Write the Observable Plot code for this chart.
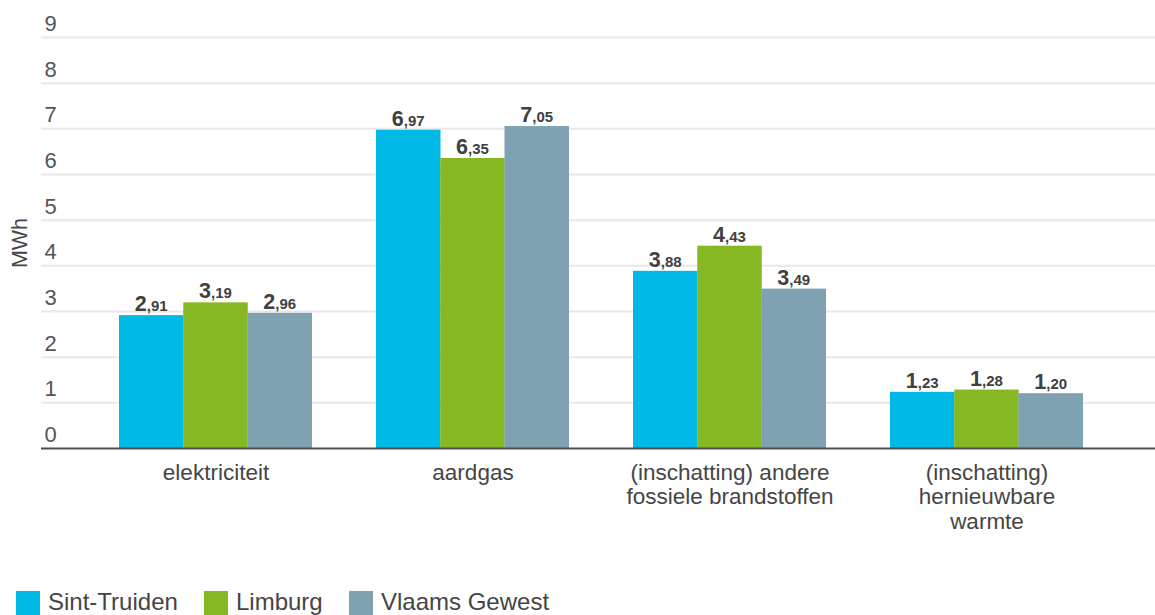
<!DOCTYPE html>
<html>
<head>
<meta charset="utf-8">
<script src="https://cdn.jsdelivr.net/npm/d3@7"></script>
<script src="https://cdn.jsdelivr.net/npm/@observablehq/plot@0.6"></script>
<style>
  body { margin: 0; background: #fff; font-family: "Liberation Sans", Arial, sans-serif; }
  #wrap { position: relative; width: 1155px; height: 615px; overflow: hidden; }
  #chart svg { display: block; }
  .legend-item { position: absolute; top: 591px; height: 24px; }
  .legend-item .sw { position: absolute; left: 0; top: 0; width: 24px; height: 24px; }
  .legend-item .lbl { position: absolute; left: 32px; top: -1px; font-size: 24px; line-height: 1; color: #454545; white-space: nowrap; }
</style>
</head>
<body>
<div id="wrap">
  <div id="chart"></div>
  <div id="legend"></div>
</div>
<script>
// Energy use per household (MWh) by carrier
const categories = [
  "elektriciteit",
  "aardgas",
  "(inschatting) andere fossiele brandstoffen",
  "(inschatting) hernieuwbare warmte"
];
const categoryLabels = [
  "elektriciteit",
  "aardgas",
  "(inschatting) andere\nfossiele brandstoffen",
  "(inschatting)\nhernieuwbare\nwarmte"
];
const series = ["Sint-Truiden", "Limburg", "Vlaams Gewest"];
const sintTruiden = [2.91, 6.97, 3.88, 1.23];
const limburg = [3.19, 6.35, 4.43, 1.28];
const vlaamsGewest = [2.96, 7.05, 3.49, 1.20];
const yTicks = [0, 1, 2, 3, 4, 5, 6, 7, 8, 9];
const colors = ["#00b9e7", "#86b823", "#7fa2b3"];

const seriesValues = [sintTruiden, limburg, vlaamsGewest];
const rows = series.flatMap((s, si) =>
  categories.map((c, ci) => ({series: s, si, category: c, value: seriesValues[si][ci]}))
);

const W = 1155, H = 575;
const xRange = [87, 1115];
const paddingInner = 0.25, paddingOuter = 0.125;
const step = (xRange[1] - xRange[0]) / (categories.length - paddingInner + 2 * paddingOuter);
const groupWidth = step * (1 - paddingInner);
const barW = groupWidth / series.length;

const intPart = v => String(Math.trunc(v));
const decPart = v => "," + v.toFixed(2).split(".")[1];

const marks = [
  // horizontal gridlines
  Plot.ruleY(yTicks.filter(d => d > 0), {stroke: "#e8e8e8", strokeWidth: 2}),
  // y tick labels sitting above each gridline
  Plot.text(yTicks, {
    y: d => d, text: d => String(d), frameAnchor: "left", textAnchor: "start",
    lineAnchor: "bottom", dx: 3, dy: -6.5, fontSize: 22, fill: "#555555"
  }),
  // y axis title
  Plot.text(["MWh"], {
    text: d => d, frameAnchor: "left", rotate: -90, dx: -21.5,
    textAnchor: "middle", lineAnchor: "middle", fontSize: 21.5, fill: "#454545"
  })
];

series.forEach((s, i) => {
  const data = rows.filter(r => r.si === i);
  const offset = (i - (series.length - 1) / 2) * barW;
  marks.push(
    Plot.barY(data, {
      x: "category", y: "value", fill: colors[i],
      insetLeft: i * barW, insetRight: (series.length - 1 - i) * barW
    }),
    Plot.text(data, {
      x: "category", y: "value", text: d => intPart(d.value),
      textAnchor: "end", lineAnchor: "bottom", dx: offset - 5, dy: -4.5,
      fontSize: 21.5, fontWeight: "bold", fill: "#404040"
    }),
    Plot.text(data, {
      x: "category", y: "value", text: d => decPart(d.value),
      textAnchor: "start", lineAnchor: "bottom", dx: offset - 5, dy: -4.5,
      fontSize: 15, fontWeight: "bold", fill: "#404040"
    })
  );
});

marks.push(
  // baseline
  Plot.ruleY([0], {stroke: "#4d4d4d", strokeWidth: 2}),
  // category labels
  Plot.text(categories, {
    x: d => d, text: (d, i) => categoryLabels[i], frameAnchor: "bottom",
    lineAnchor: "top", dy: 13.5, lineHeight: 1.1, fontSize: 22.5, fill: "#454545"
  })
);

const chart = Plot.plot({
  width: W, height: H,
  marginLeft: 41, marginRight: 0, marginTop: 37, marginBottom: 127,
  style: {fontFamily: "'Liberation Sans', Arial, sans-serif", background: "#fff", overflow: "visible"},
  x: {type: "band", domain: categories, range: xRange, paddingInner, paddingOuter, axis: null},
  y: {domain: [0, 9], axis: null},
  marks
});
document.getElementById("chart").appendChild(chart);

// legend
const legendX = [16, 204, 349];
const legend = document.getElementById("legend");
series.forEach((s, i) => {
  const item = document.createElement("div");
  item.className = "legend-item";
  item.style.left = legendX[i] + "px";
  const sw = document.createElement("div");
  sw.className = "sw";
  sw.style.background = colors[i];
  const lbl = document.createElement("div");
  lbl.className = "lbl";
  lbl.textContent = s;
  item.appendChild(sw);
  item.appendChild(lbl);
  legend.appendChild(item);
});
</script>
</body>
</html>
